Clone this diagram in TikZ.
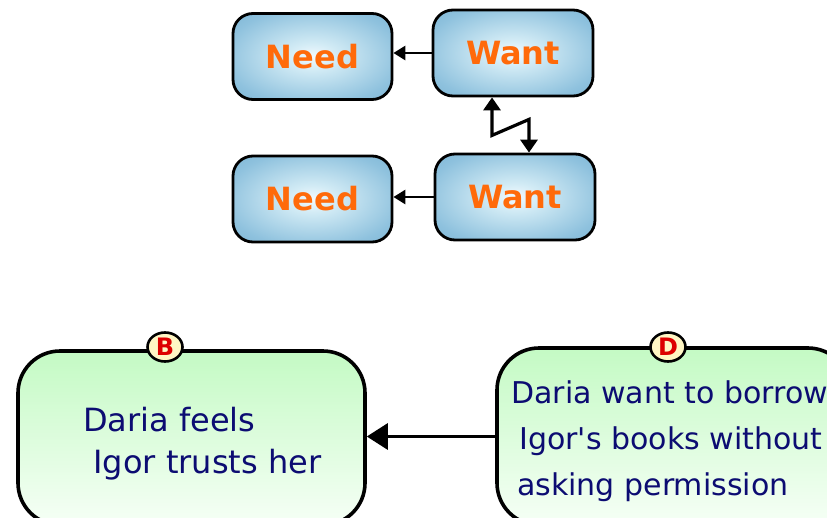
\documentclass[tikz,border=0pt]{standalone}
\usepackage{fontspec}
\setmainfont{DejaVu Sans}[Ligatures=TeXOff]
\usetikzlibrary{arrows.meta,shapes.geometric}
\definecolor{wordorange}{HTML}{FF6A0A}
\definecolor{greentop}{HTML}{C4FAC4}
\definecolor{greenbot}{HTML}{F6FFF6}
\definecolor{navytext}{HTML}{0C0C72}
\definecolor{badgefill}{HTML}{FFF6C4}
\definecolor{badgered}{HTML}{DD0000}
% pale centre fading to steel blue towards the corners
\pgfdeclareradialshading{wantshade}{\pgfpoint{0bp}{0bp}}{%
  rgb(0bp)=(0.95,0.98,1);
  rgb(8bp)=(0.82,0.92,0.96);
  rgb(28bp)=(0.56,0.76,0.87);
  rgb(48bp)=(0.40,0.65,0.79);
  rgb(70bp)=(0.29,0.55,0.72)}
\tikzset{
  wbox/.style={rectangle, rounded corners=20pt, draw=black, line width=2.8pt,
    shading=wantshade,
    minimum width=159pt, minimum height=86pt, inner sep=0pt,
    text=wordorange, font=\bfseries\fontsize{32}{32}\selectfont},
  gbox/.style={rectangle, rounded corners=42pt, draw=black, line width=3.6pt,
    top color=greentop, bottom color=greenbot, inner sep=0pt},
  badge/.style={ellipse, draw=black, line width=2.6pt, fill=badgefill,
    minimum width=35pt, minimum height=29pt, inner sep=0pt,
    text=badgered, font=\bfseries\fontsize{24}{24}\selectfont},
  gtext/.style={anchor=north west, align=left, inner sep=0pt, text=navytext},
  smallarr/.style={line width=2.8pt, -{Triangle[length=12pt,width=14pt]}},
  zigarr/.style={line width=3.2pt, {Triangle[length=13pt,width=17pt]}-{Triangle[length=13pt,width=17pt]}},
  bigarr/.style={line width=3.2pt, -{Triangle[length=21pt,width=26pt]}},
}
\begin{document}
\begin{tikzpicture}[x=1pt, y=-1pt]
\clip (0,0) rectangle (827,517);
\fill[white] (0,0) rectangle (827,517);

% want / need pairs
\node[wbox] (need1) at (312.5,56.5) {Need};
\node[wbox, minimum width=160pt] (want1) at (513,53) {Want};
\node[wbox] (need2) at (312.5,199) {Need};
\node[wbox, minimum width=160pt] (want2) at (515,197) {Want};

\draw[smallarr] (want1.west) -- (want1.west -| need1.east);
\draw[smallarr] (want2.west) -- (want2.west -| need2.east);

% conflict between the two wants
\draw[zigarr, line join=miter] ([xshift=-21pt]want1.south) -- ++(0,38) -- ++(37,-16)
  -- ([xshift=14pt]want2.north);

% lower boxes
\node[gbox, minimum width=347pt, minimum height=174pt] (bbox) at (191.5,438) {};
\node[gbox, minimum width=353pt, minimum height=177pt] (dbox) at (673.5,436.5) {};

\node[badge] (bbadge) at (165,347) {B};
\node[badge] (dbadge) at (668,347) {D};

\node[gtext, font=\fontsize{32}{42}\selectfont] (btext) at (83,407)
  {Daria feels\\\hspace*{0.32em}Igor trusts her};
\node[gtext, font=\fontsize{30}{46}\selectfont] (dtext) at (511,380)
  {Daria want to borrow\\\hspace*{0.27em}Igor's books without\\\hspace*{0.2em}asking permission};

\draw[bigarr] (dbox.west) -- (dbox.west -| bbox.east);
\end{tikzpicture}
\end{document}
